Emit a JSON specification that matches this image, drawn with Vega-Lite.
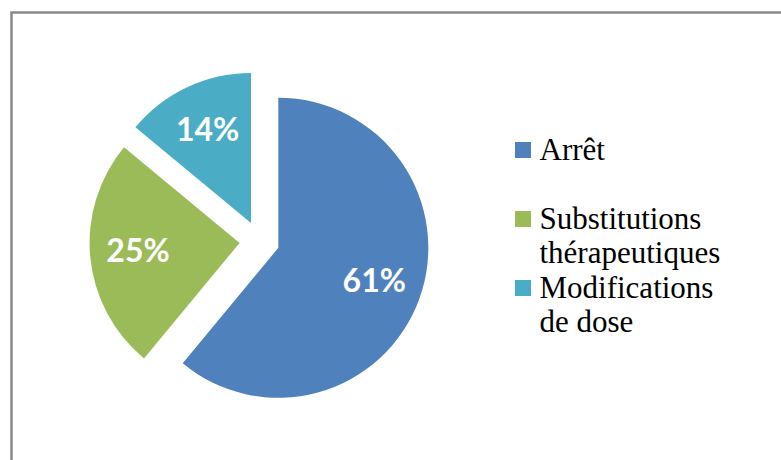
{
  "$schema": "https://vega.github.io/schema/vega-lite/v6.json",
  "width": 300,
  "height": 300,
  "autosize": {"type": "none"},
  "padding": {"left": 109.5, "top": 91, "right": 371.5, "bottom": 69},
  "background": "white",
  "config": {"view": {"stroke": null}},
  "data": {
    "values": [
      {"categorie": "Arrêt", "part": 0.61, "ordre": 1},
      {"categorie": "Substitutions thérapeutiques", "part": 0.25, "ordre": 2},
      {"categorie": "Modifications de dose", "part": 0.14, "ordre": 3}
    ]
  },
  "layer": [
    {
      "data": {"values": [{}]},
      "mark": {"type": "rect", "fill": null, "stroke": "#898989", "strokeWidth": 2.5},
      "encoding": {
        "x": {"value": -98},
        "y": {"value": -78.5},
        "x2": {"value": 700},
        "y2": {"value": 400}
      }
    },
    {
      "mark": {
        "type": "arc",
        "radius": 150,
        "xOffset": {"expr": "20*sin(PI*(datum.part_start+datum.part_end))"},
        "yOffset": {"expr": "-20*cos(PI*(datum.part_start+datum.part_end))"}
      },
      "encoding": {
        "theta": {"field": "part", "type": "quantitative", "stack": true, "scale": {"domain": [0, 1]}},
        "order": {"field": "ordre"},
        "color": {
          "field": "categorie",
          "type": "nominal",
          "scale": {
            "domain": ["Arrêt", "Substitutions thérapeutiques", "Modifications de dose"],
            "range": ["#4F81BD", "#9BBB59", "#4BACC6"]
          },
          "legend": {
            "orient": "none",
            "legendX": 398,
            "legendY": 43.5,
            "title": null,
            "padding": 0,
            "symbolType": "square",
            "symbolSize": 256,
            "symbolStrokeWidth": 0,
            "labelFont": "Liberation Serif",
            "labelFontSize": 31,
            "labelColor": "black",
            "labelLimit": 400,
            "labelOffset": 1,
            "labelBaseline": "alphabetic",
            "rowPadding": 3,
            "labelExpr": "indexof(datum.label, ' ') < 0 ? [datum.label, ' '] : [substring(datum.label, 0, indexof(datum.label, ' ')), substring(datum.label, indexof(datum.label, ' ') + 1)]",
            "encode": {"labels": {"update": {"dy": {"value": 10}, "lineHeight": {"value": 34}}}}
          }
        }
      }
    },
    {
      "mark": {
        "type": "text",
        "radius": 102,
        "xOffset": {"expr": "20*sin(PI*(datum.part_start+datum.part_end))"},
        "yOffset": {"expr": "-20*cos(PI*(datum.part_start+datum.part_end))"},
        "font": "Lato",
        "fontWeight": "bold",
        "fontSize": 32,
        "fill": "white",
        "align": "center",
        "baseline": "middle"
      },
      "encoding": {
        "theta": {"field": "part", "type": "quantitative", "stack": true, "scale": {"domain": [0, 1]}},
        "order": {"field": "ordre"},
        "text": {"field": "part", "type": "quantitative", "format": ".0%"}
      }
    }
  ]
}
